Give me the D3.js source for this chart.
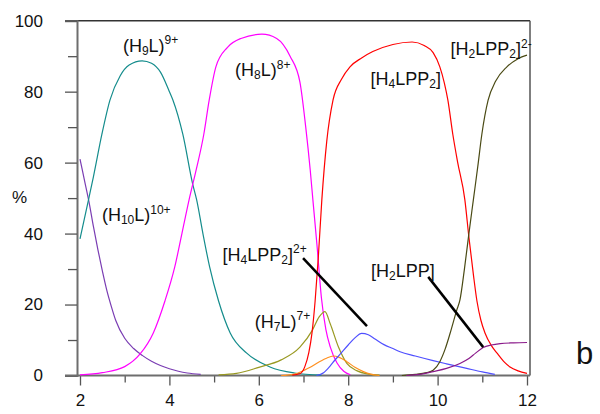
<!DOCTYPE html>
<html>
<head>
<meta charset="utf-8">
<script src="https://cdn.jsdelivr.net/npm/d3@7"></script>
<style>
  body { margin: 0; background: #fff; }
  svg { display: block; }
  text { font-family: "Liberation Sans", Arial, Helvetica, sans-serif; fill: #111; }
</style>
</head>
<body>
<svg id="chart" width="600" height="414"></svg>
<script>
// Axis ticks
const xTicks = [2, 4, 6, 8, 10, 12];
const xMinor = [3, 5, 7, 9, 11];
const yTicks = [0, 20, 40, 60, 80, 100];
const yMinor = [10, 30, 50, 70, 90];

// Species distribution (% of ligand) versus pH
const pH_H10L  = [2.0, 2.1, 2.2, 2.3, 2.4, 2.5, 2.6, 2.7, 2.8, 3.0, 3.2, 3.4, 3.6, 3.8, 4.0, 4.2, 4.4, 4.7];
const pct_H10L = [61, 55, 49, 42, 35.5, 29.5, 24, 19.5, 15.5, 10.5, 7.6, 5.6, 4.0, 2.8, 1.9, 1.2, 0.7, 0.3];

const pH_H9L  = [2.0, 2.19, 2.3, 2.49, 2.67, 2.9, 3.1, 3.39, 3.6, 3.8, 4.0, 4.08, 4.3, 4.52, 4.61, 4.75, 4.9, 5.1, 5.36, 5.73, 6.25, 6.8, 7.4];
const pct_H9L = [38.5, 49.5, 56, 68, 77.6, 84.5, 87.5, 88.7, 88, 85.5, 80, 77.6, 68, 54, 49.5, 40, 30.6, 21, 12, 6.3, 2.4, 0.7, 0.1];

const pH_H8L  = [2.0, 2.5, 3.0, 3.34, 3.64, 3.9, 4.12, 4.28, 4.44, 4.6, 4.77, 4.89, 5.04, 5.3, 5.6, 6.07, 6.4, 6.7, 6.92, 7.05, 7.15, 7.21, 7.3, 7.4, 7.5, 7.6, 7.75, 7.9, 8.05];
const pct_H8L = [0.2, 0.8, 2.5, 6, 12, 21, 30.6, 40, 49.5, 58, 68, 77.6, 87, 92.5, 95, 96.2, 95, 90, 82.7, 70, 58, 49.5, 37, 22, 13, 8, 3.5, 1.2, 0.2];

const pH_H7L  = [5.1, 5.5, 6.0, 6.5, 6.92, 7.2, 7.35, 7.48, 7.6, 7.78, 7.97, 8.2, 8.45, 8.7];
const pct_H7L = [0.2, 0.6, 2.3, 4.4, 8, 12.8, 16.5, 18, 14.5, 8.1, 3.4, 1.3, 0.4, 0.1];

const pH_H6L  = [6.5, 6.8, 7.0, 7.15, 7.29, 7.5, 7.67, 7.8, 7.97, 8.15, 8.34, 8.5, 8.7];
const pct_H6L = [0, 0.4, 1.4, 2.3, 3.4, 4.8, 5.5, 5.1, 3.9, 2.3, 1.1, 0.4, 0];

const pH_H4LPP2  = [6.75, 6.92, 7.03, 7.12, 7.19, 7.26, 7.33, 7.41, 7.52, 7.66, 7.85, 8.04, 8.3, 8.55, 9.0, 9.43, 9.7, 9.9, 10.05, 10.15, 10.23, 10.34, 10.45, 10.61, 10.7, 10.8, 10.88, 10.97, 11.06, 11.2, 11.33, 11.5, 11.62, 11.8, 12.0];
const pct_H4LPP2 = [0.1, 0.5, 2.5, 6.5, 12, 21, 33, 49.5, 66, 77.6, 83.5, 87, 89.5, 91.3, 93.3, 94, 93, 91, 87, 82.5, 77.6, 68, 60, 49.5, 39, 28.5, 21, 15.5, 12, 8.5, 6.3, 3.7, 2.4, 1.3, 0.6];

const pH_H3LPP2  = [7.29, 7.45, 7.59, 7.7, 7.82, 8.0, 8.15, 8.3, 8.45, 8.6, 8.8, 9.0, 9.16, 9.5, 9.9, 10.2, 10.65, 11.0, 11.28];
const pct_H3LPP2 = [0, 0.8, 2.6, 4.3, 6.0, 8.6, 10.6, 11.9, 11.5, 10.3, 8.7, 7.6, 6.7, 5.5, 4.2, 3.3, 2.0, 1.0, 0.3];

const pH_H2LPP2  = [9.2, 9.5, 9.75, 9.9, 10.05, 10.17, 10.28, 10.43, 10.5, 10.6, 10.7, 10.8, 10.9, 10.99, 11.13, 11.3, 11.55, 11.8, 12.0];
const pct_H2LPP2 = [0, 0.3, 0.8, 1.5, 3.9, 7.5, 11.9, 18.5, 21.3, 30, 40, 49.5, 59, 68, 77.6, 83, 87, 89.3, 90.3];

const pH_H2LPP  = [9.3, 9.6, 9.9, 10.2, 10.5, 10.7, 10.85, 11.02, 11.2, 11.4, 11.7, 12.0];
const pct_H2LPP = [0, 0.3, 1.1, 2.0, 3.4, 4.8, 6.3, 7.9, 8.6, 9.0, 9.2, 9.3];

const series = [
  { pH: pH_H10L,   pct: pct_H10L,   color: "#7a3db3" },
  { pH: pH_H9L,    pct: pct_H9L,    color: "#148c8c" },
  { pH: pH_H8L,    pct: pct_H8L,    color: "#ff00ff" },
  { pH: pH_H7L,    pct: pct_H7L,    color: "#999922" },
  { pH: pH_H6L,    pct: pct_H6L,    color: "#ff9020" },
  { pH: pH_H4LPP2, pct: pct_H4LPP2, color: "#ff0000" },
  { pH: pH_H3LPP2, pct: pct_H3LPP2, color: "#5050ff" },
  { pH: pH_H2LPP2, pct: pct_H2LPP2, color: "#4a4a14" },
  { pH: pH_H2LPP,  pct: pct_H2LPP,  color: "#8a1a8a" }
];

// Species labels: [text, style] pieces, anchored at (pH, %)
const labels = [
  { at: [2.96, 91.3], parts: [["(H", ""], ["9", "sub"], ["L)", ""], ["9+", "sup"]] },
  { at: [5.47, 84.4], parts: [["(H", ""], ["8", "sub"], ["L)", ""], ["8+", "sup"]] },
  { at: [2.49, 43.5], parts: [["(H", ""], ["10", "sub"], ["L)", ""], ["10+", "sup"]] },
  { at: [5.19, 32.4], parts: [["[H", ""], ["4", "sub"], ["LPP", ""], ["2", "sub"], ["]", ""], ["2+", "sup"]] },
  { at: [5.91, 13.4], parts: [["(H", ""], ["7", "sub"], ["L)", ""], ["7+", "sup"]] },
  { at: [8.50, 81.9], parts: [["[H", ""], ["4", "sub"], ["LPP", ""], ["2", "sub"], ["]", ""]] },
  { at: [10.29, 90.3], parts: [["[H", ""], ["2", "sub"], ["LPP", ""], ["2", "sub"], ["]", ""], ["2-", "sup"]] },
  { at: [8.51, 27.8], parts: [["[H", ""], ["2", "sub"], ["LPP]", ""]] }
];

// Pointer lines from labels to their curves, in (pH, %)
const pointers = [
  [[6.99, 33.1], [8.42, 13.9]],
  [[9.79, 27.8], [11.02, 8.0]]
];

const svg = d3.select("#chart");
const x = d3.scaleLinear().domain([2, 12]).range([80, 527]);
const y = d3.scaleLinear().domain([0, 100]).range([375.5, 20.7]);

const axisX0 = 77, frameLeft = 65, frameRight = 530;
const font = "'Liberation Sans', Arial, sans-serif";

// Frame: top and right edges
svg.append("line").attr("x1", frameLeft).attr("x2", frameRight)
  .attr("y1", y(100)).attr("y2", y(100)).attr("stroke", "#333").attr("stroke-width", 1.5);
svg.append("line").attr("x1", frameRight).attr("x2", frameRight)
  .attr("y1", y(100)).attr("y2", y(0)).attr("stroke", "#555").attr("stroke-width", 1.5);

// Y axis: labelled major ticks and shorter minor ticks
const yAxis = svg.append("g").attr("transform", `translate(${axisX0},0)`)
  .call(d3.axisLeft(y).tickValues(yTicks).tickSize(12).tickPadding(22).tickFormat(d3.format("d")));
const yMinorG = svg.append("g").attr("transform", `translate(${axisX0},0)`)
  .call(d3.axisLeft(y).tickValues(yMinor).tickSize(9).tickFormat(""));
yMinorG.select(".domain").remove();
yAxis.select(".domain").attr("stroke", "#6e6e6e").attr("stroke-width", 2);
svg.selectAll(".tick line").attr("stroke", "#555").attr("stroke-width", 1.3);
yAxis.selectAll(".tick text").attr("font-size", 17).attr("fill", "#111").style("font-family", font);

// X axis
const xAxis = svg.append("g").attr("transform", `translate(0,${y(0)})`)
  .call(d3.axisBottom(x).tickValues(xTicks).tickSize(10).tickPadding(8).tickFormat(d3.format("d")));
const xMinorG = svg.append("g").attr("transform", `translate(0,${y(0)})`)
  .call(d3.axisBottom(x).tickValues(xMinor).tickSize(7).tickFormat(""));
xAxis.select(".domain").remove();
xMinorG.select(".domain").remove();
xAxis.selectAll(".tick line").attr("stroke", "#555").attr("stroke-width", 1.3);
xMinorG.selectAll(".tick line").attr("stroke", "#555").attr("stroke-width", 1.3);
xAxis.selectAll(".tick text").attr("font-size", 17).attr("fill", "#111").style("font-family", font);
svg.append("line").attr("x1", frameLeft).attr("x2", frameRight)
  .attr("y1", y(0)).attr("y2", y(0)).attr("stroke", "#6e6e6e").attr("stroke-width", 2);

// Curves
const line = d3.line()
  .x(d => x(d[0]))
  .y(d => y(d[1]))
  .curve(d3.curveMonotoneX);

svg.append("g").selectAll("path").data(series).join("path")
  .attr("d", s => line(s.pH.map((p, i) => [p, s.pct[i]])))
  .attr("fill", "none")
  .attr("stroke", s => s.color)
  .attr("stroke-width", 1.2);

// Pointer lines
svg.append("g").selectAll("line").data(pointers).join("line")
  .attr("x1", d => x(d[0][0])).attr("y1", d => y(d[0][1]))
  .attr("x2", d => x(d[1][0])).attr("y2", d => y(d[1][1]))
  .attr("stroke", "#000").attr("stroke-width", 2.5);

// Species labels with sub/superscripts
const shift = { "": 0, sub: 3, sup: -7.5 };
labels.forEach(l => {
  const t = svg.append("text")
    .attr("x", x(l.at[0])).attr("y", y(l.at[1]))
    .attr("font-size", 18);
  let cur = 0;
  l.parts.forEach(([txt, kind]) => {
    const target = shift[kind];
    t.append("tspan")
      .attr("dy", target - cur)
      .attr("font-size", kind === "" ? 18 : 12)
      .text(txt);
    cur = target;
  });
});

// Axis title and panel letter
svg.append("text").attr("x", 12).attr("y", 203).attr("font-size", 17).text("%");
svg.append("text").attr("x", 576).attr("y", 364).attr("font-size", 31).text("b");
</script>
</body>
</html>
